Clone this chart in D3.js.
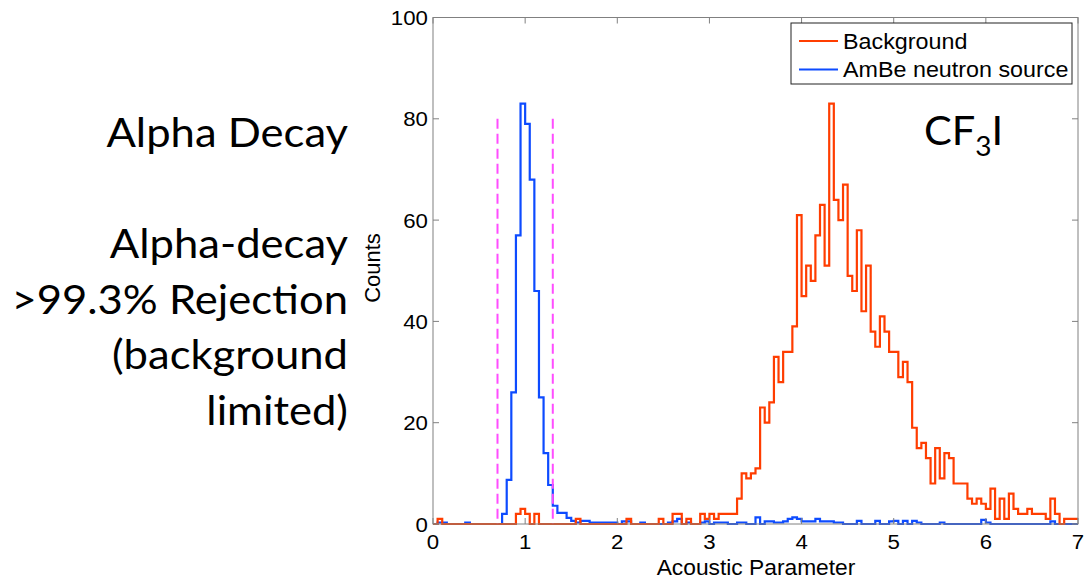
<!DOCTYPE html>
<html><head><meta charset="utf-8">
<script src="https://cdn.jsdelivr.net/npm/d3@7"></script>
<style>body{margin:0;background:#fff;} svg{display:block;}</style>
</head><body>
<svg id="chart" width="1084" height="579"></svg>
<script>
// ---- data ----
const binWidth = 0.05;
const backgroundCounts = [
  0,1,0,0,0,0,0,0,0,0, 0,0,0,0,0,0,0,0,2,3,
  2,0,2,0,0,0,0,0,0,0, 0,1,0,0,0,0,0,0,0,0,
  0,0,1,0,0,0,0,0,0,1, 0,0,2,2,0,1,0,0,2,1,
  2,1,2,2,2,2,5,10,9,10, 11,23,20,24,33,28,34,34,39,61,
  45,51,48,57,63,51,83,64,60,67, 49,46,58,42,51,38,35,41,38,34,
  34,29,32,28,19,15,16,13,8,15, 9,14,13,8,8,8,5,4,5,4,
  3,7,1,5,1,6,3,2,2,3, 2,2,2,1,5,2,0,1,1,1
];
const ambeCounts = [
  0,0.3,0.3,0,0,0,0,0.3,0,0, 0,0,0,0,0,2,8.7,26,57,83,
  79,68,46,25,14,7.7,3.6,2.2,2.2,1.2, 0.6,0.3,0.6,0.6,0.3,0.3,0.3,0.3,0.3,0.3,
  0,0.5,0.5,0,0,0.3,0,0,0,0, 0,0.3,0.5,1,0,0.3,0,0,0.3,0.5,
  0,0.3,0.3,0.3,0,0,0.3,0.3,0,0, 1.3,0,0.5,0.5,0.3,0.3,0.5,1,1.3,1,
  0.5,0.5,0.5,1,0.5,0.5,0.5,0.3,0.3,0, 0,0,0.6,0,0,0,0.6,0,0,0.5,
  0.6,0,0.6,0,0.6,0.3,0,0,0,0, 0.3,0,0,0,0,0,0,0,0,0.8,
  0.3,0,0,0,0,0,0,0,0,0, 0,0,0,0,0.5,0,0,0,0,0
];
const xTicks = [0,1,2,3,4,5,6,7];
const yTicks = [0,20,40,60,80,100];
const cutValues = [0.7, 1.3];
const cutHeight = 80;
const legendLabels = ["Background", "AmBe neutron source"];
const sideLines = [
  {row:0, text:"Alpha Decay"},
  {row:2, text:"Alpha-decay"},
  {row:3, text:">99.3% Rejection"},
  {row:4, text:"(background"},
  {row:5, text:"limited)"}
];

// ---- layout ----
const svg = d3.select("#chart");
const L = 433, R = 1078, T = 17.5, B = 524;
const x = d3.scaleLinear().domain([0,7]).range([L,R]);
const y = d3.scaleLinear().domain([0,100]).range([B,T]);
const colRed = "#ff3d00", colBlue = "#0d4bff", colCut = "#ff4dff", axisCol = "#808080";
const axisFont = "'Liberation Sans', Arial, Helvetica, sans-serif";
const slideFont = "Lato, 'Open Sans', sans-serif";
const sx = 1.06;   // horizontal stretch of the source picture's text
const sxSide = 1.09;

svg.append("rect").attr("width",1084).attr("height",579).attr("fill","#fff");

// series
function stairs(vals){
  const pts = vals.map((v,i)=>[i*binWidth, v]);
  pts.push([vals.length*binWidth, vals[vals.length-1]]);
  return d3.line().x(d=>x(d[0])).y(d=>y(d[1])).curve(d3.curveStepAfter)(pts);
}
svg.append("path").attr("d", stairs(ambeCounts)).attr("fill","none")
  .attr("stroke",colBlue).attr("stroke-width",2.2).attr("stroke-linejoin","miter");
svg.append("path").attr("d", stairs(backgroundCounts)).attr("fill","none")
  .attr("stroke",colRed).attr("stroke-width",2.2).attr("stroke-linejoin","miter");

// cut lines
svg.selectAll("line.cut").data(cutValues).enter().append("line")
  .attr("x1",d=>x(d)).attr("x2",d=>x(d)).attr("y1",y(cutHeight)).attr("y2",y(0))
  .attr("stroke",colCut).attr("stroke-width",2).attr("stroke-dasharray","10,5");

// axes box
const ax = svg.append("g");
ax.append("rect").attr("x",L).attr("y",T).attr("width",R-L).attr("height",B-T)
  .attr("fill","none").attr("stroke",axisCol).attr("stroke-width",1);
const tl = 6;
xTicks.forEach(t=>{
  ax.append("line").attr("x1",x(t)).attr("x2",x(t)).attr("y1",B).attr("y2",B-tl).attr("stroke",axisCol);
  ax.append("line").attr("x1",x(t)).attr("x2",x(t)).attr("y1",T).attr("y2",T+tl).attr("stroke",axisCol);
});
yTicks.forEach(t=>{
  ax.append("line").attr("x1",L).attr("x2",L+tl).attr("y1",y(t)).attr("y2",y(t)).attr("stroke",axisCol);
  ax.append("line").attr("x1",R).attr("x2",R-tl).attr("y1",y(t)).attr("y2",y(t)).attr("stroke",axisCol);
});
function stxt(g, px, py, size, anchor, str, family, stretch){
  return g.append("text").attr("transform",`translate(${px},${py}) scale(${stretch||sx},1)`)
    .attr("text-anchor",anchor).attr("font-family",family||axisFont).attr("font-size",size)
    .attr("fill","#000").text(str);
}
xTicks.forEach(t=>stxt(ax, x(t), 549, 21, "middle", t));
yTicks.forEach(t=>stxt(ax, 428, y(t)+7.5, 21, "end", t));
stxt(ax, 756, 575, 21.5, "middle", "Acoustic Parameter");
ax.append("text").attr("transform","translate(380,268) rotate(-90)").attr("text-anchor","middle")
  .attr("font-family",axisFont).attr("font-size",22).attr("fill","#000").text("Counts");

// legend
const lg = svg.append("g");
lg.append("rect").attr("x",791).attr("y",23).attr("width",281).attr("height",61)
  .attr("fill","#fff").attr("stroke","#222").attr("stroke-width",1);
[colRed,colBlue].forEach((c,i)=>{
  const yy = 41 + i*28.5;
  lg.append("line").attr("x1",799).attr("x2",838).attr("y1",yy).attr("y2",yy).attr("stroke",c).attr("stroke-width",2.2);
  stxt(lg, 843, yy+7.5, 22, "start", legendLabels[i]);
});

// CF3I label
const cf = svg.append("text").attr("transform","translate(924,145) scale(1.04,1)").attr("font-family",slideFont)
  .attr("font-size",40).attr("fill","#000");
cf.append("tspan").text("CF");
cf.append("tspan").attr("font-size",27).attr("dy",11).text("3");
cf.append("tspan").attr("dy",-11).text("I");

// side text
sideLines.forEach(d=>stxt(svg, 348, 147 + d.row*55.6, 40, "end", d.text, slideFont, sxSide));
</script>
</body></html>
